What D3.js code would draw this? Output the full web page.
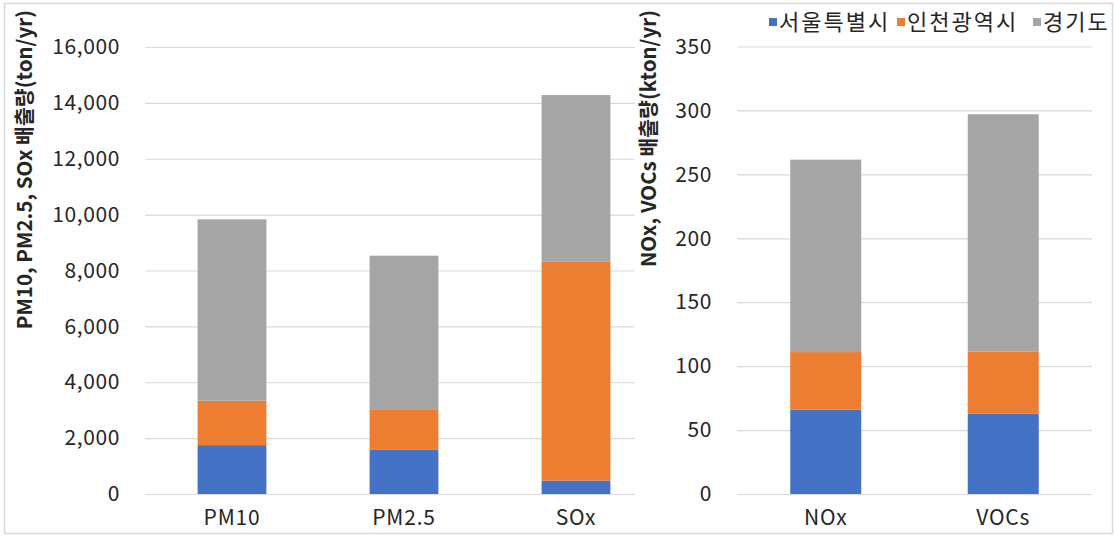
<!DOCTYPE html>
<html><head><meta charset="utf-8">
<script src="https://cdn.jsdelivr.net/npm/d3@7"></script>
<style>
body{margin:0;background:#fff;}
svg text{font-family:"Noto Sans CJK KR","Noto Sans",sans-serif;fill:#262626;}
</style></head>
<body><svg id="c" width="1115" height="537"></svg>
<script>
const regions = ["서울특별시","인천광역시","경기도"];
const colors = ["#4472C4","#ED7D31","#A5A5A5"];
const leftCats = ["PM10","PM2.5","SOx"];
const leftSeoul = [1750,1580,480];
const leftIncheon = [1590,1430,7830];
const leftGyeonggi = [6490,5520,5970];
const leftTicks = [0,2000,4000,6000,8000,10000,12000,14000,16000];
const rightCats = ["NOx","VOCs"];
const rightSeoul = [66,63];
const rightIncheon = [45,48.5];
const rightGyeonggi = [150.5,185.5];
const rightTicks = [0,50,100,150,200,250,300,350];

const svg = d3.select("#c");
svg.append("rect").attr("x",4.5).attr("y",3.5).attr("width",1108).attr("height",530)
  .attr("fill","none").attr("stroke","#d9d9d9").attr("stroke-width",1.5);

function panel(cats, series, ticks, yMax, xRange, gridStart, gridEnd, fmt, title, titleX){
  const y = d3.scaleLinear().domain([0,yMax]).range([494, yMax===16000?47:46.5]);
  const x = d3.scaleBand().domain(cats).range(xRange).paddingInner(0.6).paddingOuter(0.3);
  const ax = svg.append("g").attr("transform",`translate(${gridStart},0)`)
    .call(d3.axisLeft(y).tickValues(ticks).tickSize(-(gridEnd-gridStart)).tickPadding(25).tickFormat(fmt));
  ax.select(".domain").remove();
  ax.selectAll(".tick line").attr("stroke","#d9d9d9").attr("stroke-width",1.2);
  ax.selectAll(".tick text").attr("font-size",21).attr("letter-spacing","0.6px").attr("fill","#595959");
  const stack = d3.stack().keys([0,1,2]).value((d,k)=>series[k][d])(cats.map((c,i)=>i));
  stack.forEach((layer,k)=>{
    svg.append("g").selectAll("rect").data(layer).join("rect")
      .attr("x",(d,i)=>x(cats[i])).attr("width",x.bandwidth())
      .attr("y",d=>y(d[1])).attr("height",d=>y(d[0])-y(d[1]))
      .attr("fill",colors[k]);
  });
  const xa = svg.append("g").attr("transform","translate(0,494)")
    .call(d3.axisBottom(x).tickSize(0).tickPadding(16));
  xa.select(".domain").remove();
  xa.selectAll(".tick text").attr("font-size",21).attr("letter-spacing","0.8px").attr("fill","#262626");
  svg.append("text").attr("transform",`translate(${titleX},10) rotate(-90)`)
    .attr("text-anchor","end").attr("dy","0.35em").attr("font-size",20.5).attr("font-weight","bold")
    .text(title);
}
panel(leftCats,[leftSeoul,leftIncheon,leftGyeonggi],leftTicks,16000,[146,662],145,635,d3.format(","),"PM10, PM2.5, SOx 배출량(ton/yr)",25);
panel(rightCats,[rightSeoul,rightIncheon,rightGyeonggi],rightTicks,350,[737,1092],737,1092,d3.format("d"),"NOx, VOCs 배출량(kton/yr)",649);

const legX = [769,897,1033];
const lg = svg.append("g");
regions.forEach((r,i)=>{
  lg.append("rect").attr("x",legX[i]).attr("y",18).attr("width",8).attr("height",8).attr("fill",colors[i]);
  lg.append("text").attr("x",legX[i]+10).attr("y",22).attr("dy","0.35em").attr("font-size",22)
    .attr("letter-spacing","2px").text(r);
});
</script></body></html>
